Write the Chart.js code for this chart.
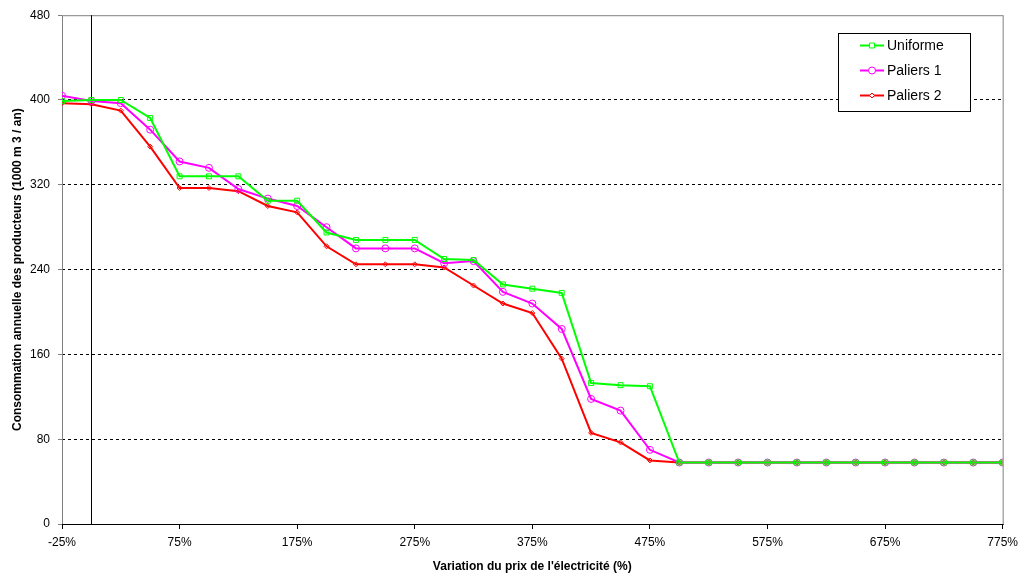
<!DOCTYPE html>
<html>
<head>
<meta charset="utf-8">
<script src="https://cdn.jsdelivr.net/npm/chart.js@4"></script>
<style>
  html, body { margin: 0; padding: 0; background: #fff; }
  #wrap { width: 1024px; height: 578px; }
</style>
</head>
<body>
<div id="wrap"><canvas id="chart1"></canvas></div>
<script>
// Variation du prix (%) - un point tous les 25 %
const variations = [-25, 0, 25, 50, 75, 100, 125, 150, 175, 200, 225, 250, 275, 300, 325, 350, 375,
  400, 425, 450, 475, 500, 525, 550, 575, 600, 625, 650, 675, 700, 725, 750, 775];

// Consommation annuelle (1000 m3 / an)
const uniforme = [399, 400, 400, 383, 328, 328, 328, 305, 305, 275, 268, 268, 268, 250, 249, 226, 222,
  218, 133, 131, 130, 58, 58, 58, 58, 58, 58, 58, 58, 58, 58, 58, 58];
const paliers1 = [404, 399, 397, 372, 342, 336, 316, 307, 300, 280, 260, 260, 260, 246, 248, 219, 208,
  184, 118, 107, 70, 58, 58, 58, 58, 58, 58, 58, 58, 58, 58, 58, 58];
const paliers2 = [397, 396, 390, 356, 317, 317, 314, 300, 294, 262, 245, 245, 245, 242, 225, 208, 199,
  156, 86, 77, 60, 58, 58, 58, 58, 58, 58, 58, 58, 58, 58, 58, 58];

const xTicks = [-25, 75, 175, 275, 375, 475, 575, 675, 775];
const yTicks = [0, 80, 160, 240, 320, 400, 480];

const police = 'Liberation Sans, Arial, sans-serif';

function points(values) {
  return values.map((v, i) => ({ x: variations[i], y: v }));
}

// Cadre, axe vertical à 0 % et légende dessinés à la main
const decor = {
  id: 'decor',
  beforeDatasetsDraw(chart) {
    const { ctx, chartArea: a, scales } = chart;
    ctx.save();
    ctx.strokeStyle = '#808080';
    ctx.lineWidth = 1;
    ctx.strokeRect(a.left + 0.5, a.top + 0.5, a.right - a.left, a.bottom - a.top);
    const x0 = Math.round(scales.x.getPixelForValue(0)) + 0.5;
    ctx.strokeStyle = '#000';
    ctx.beginPath();
    ctx.moveTo(x0, a.top);
    ctx.lineTo(x0, a.bottom);
    ctx.stroke();
    ctx.beginPath();
    ctx.moveTo(a.left, a.bottom + 0.5);
    ctx.lineTo(a.right + 1, a.bottom + 0.5);
    ctx.stroke();
    ctx.restore();
  },
  afterDraw(chart) {
    const { ctx } = chart;
    const bx = 838, by = 33, bw = 132, bh = 78;
    ctx.save();
    ctx.fillStyle = '#fff';
    ctx.fillRect(bx, by, bw, bh);
    ctx.strokeStyle = '#000';
    ctx.lineWidth = 1;
    ctx.strokeRect(bx + 0.5, by + 0.5, bw, bh);
    ctx.font = '14px ' + police;
    ctx.textBaseline = 'middle';
    chart.data.datasets.forEach((ds, i) => {
      const y = by + 12.5 + i * 25;
      ctx.strokeStyle = ds.borderColor;
      ctx.lineWidth = 2;
      ctx.beginPath();
      ctx.moveTo(860, y);
      ctx.lineTo(884, y);
      ctx.stroke();
      ctx.fillStyle = '#fff';
      ctx.lineWidth = 1;
      Chart.helpers.drawPoint(ctx, {
        pointStyle: ds.pointStyle, radius: ds.pointRadius, borderWidth: 1
      }, 872, y);
      ctx.fillStyle = '#000';
      ctx.fillText(ds.label, 887, y + 1);
    });
    ctx.restore();
  }
};

const series = [
  { label: 'Uniforme', data: uniforme, color: '#00ff00', style: 'rect', r: 3.5 },
  { label: 'Paliers 1', data: paliers1, color: '#ff00ff', style: 'circle', r: 3.5 },
  { label: 'Paliers 2', data: paliers2, color: '#ff0000', style: 'rectRot', r: 2.5 }
];

new Chart(document.getElementById('chart1'), {
  type: 'line',
  data: {
    datasets: series.map(s => ({
      label: s.label,
      data: points(s.data),
      borderColor: s.color,
      backgroundColor: 'rgba(0,0,0,0)',
      pointBorderColor: s.color,
      pointBackgroundColor: 'rgba(0,0,0,0)',
      pointStyle: s.style,
      pointRadius: s.r,
      pointBorderWidth: 1,
      borderWidth: 2,
      tension: 0
    }))
  },
  options: {
    responsive: true,
    maintainAspectRatio: false,
    animation: false,
    layout: { padding: { top: 15, right: 20, left: 0, bottom: 0 } },
    plugins: { legend: { display: false }, tooltip: { enabled: false } },
    scales: {
      x: {
        type: 'linear',
        min: -25,
        max: 775,
        afterBuildTicks: scale => { scale.ticks = xTicks.map(v => ({ value: v })); },
        afterFit: scale => { scale.height = 54; },
        grid: { drawOnChartArea: false, drawTicks: true, tickLength: 5, color: '#000' },
        border: { display: false },
        ticks: {
          color: '#000',
          font: { family: police, size: 12 },
          padding: 6,
          maxRotation: 0,
          callback: v => v + '%'
        },
        title: {
          display: true,
          text: "Variation du prix de l'électricité (%)",
          color: '#000',
          font: { family: police, size: 12, weight: 'bold' },
          padding: { top: 0, bottom: 4 }
        }
      },
      y: {
        min: 0,
        max: 480,
        afterBuildTicks: scale => { scale.ticks = yTicks.map(v => ({ value: v })); },
        afterFit: scale => { scale.width = 62; },
        grid: {
          drawTicks: true,
          tickLength: 4,
          color: ctx => (ctx.tick && (ctx.tick.value === 0 || ctx.tick.value === 480)) ? 'rgba(0,0,0,0)' : '#000',
          tickColor: '#808080'
        },
        border: { display: false, dash: [3, 3] },
        ticks: {
          color: '#000',
          font: { family: police, size: 12 },
          padding: 8
        },
        title: {
          display: true,
          text: 'Consommation annuelle des producteurs (1000 m 3 / an)',
          color: '#000',
          font: { family: police, size: 12, weight: 'bold' },
          padding: { top: 10, bottom: 0 }
        }
      }
    }
  },
  plugins: [decor]
});
</script>
</body>
</html>
